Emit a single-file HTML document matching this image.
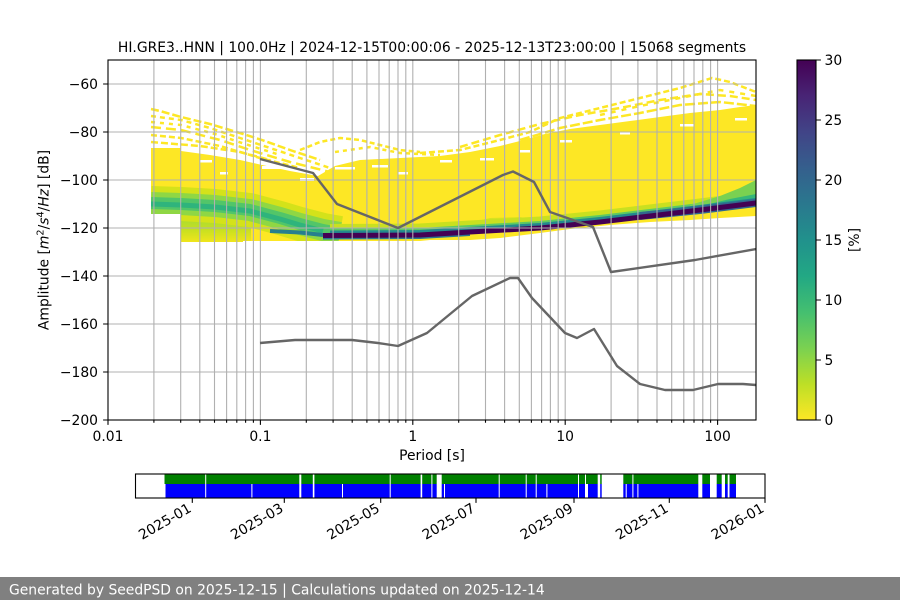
<!DOCTYPE html>
<html><head><meta charset="utf-8"><style>
html,body{margin:0;padding:0;background:#fff;}
svg{display:block;}
text{font-family:"DejaVu Sans","Liberation Sans",sans-serif;font-size:13.89px;fill:#000;}
</style></head><body>
<svg width="900" height="600" viewBox="0 0 900 600" xmlns="http://www.w3.org/2000/svg">
<defs>
<clipPath id="ax"><rect x="108" y="60" width="648" height="360"/></clipPath>
<clipPath id="body"><polygon points="151,148 181,148 181,151 210,155 240,160 262,165 290,171 318,176 335,166 360,160 400,158 440,156 470,152 500,146 520,141 545,134 570,129 600,125 630,121 660,117 690,113 720,110 740,107 756,105 756,216 720,218 690,220 650,222 610,225 570,229 540,233 500,238 470,240 430,240 420,241 330,241 243,241 243,242 181,242 181,214 151,214"/></clipPath>
<linearGradient id="cb" x1="0" y1="0" x2="0" y2="1">
<stop offset="0" stop-color="#440154"/><stop offset="0.1" stop-color="#482475"/><stop offset="0.2" stop-color="#414487"/><stop offset="0.3" stop-color="#355f8d"/><stop offset="0.4" stop-color="#2a788e"/><stop offset="0.5" stop-color="#21918c"/><stop offset="0.6" stop-color="#22a884"/><stop offset="0.7" stop-color="#44bf70"/><stop offset="0.8" stop-color="#7ad151"/><stop offset="0.9" stop-color="#bddf26"/><stop offset="1" stop-color="#fde725"/>
</linearGradient>
<linearGradient id="gB" x1="0" y1="0" x2="0" y2="1">
<stop offset="0" stop-color="#a8db34"/><stop offset="0.5" stop-color="#c8e020"/><stop offset="1" stop-color="#f0e51c"/>
</linearGradient>
<linearGradient id="gH" x1="0" y1="0" x2="0" y2="1">
<stop offset="0" stop-color="#e4e419"/><stop offset="0.5" stop-color="#9dd93b"/><stop offset="1" stop-color="#3fbc73"/>
</linearGradient>
</defs>
<rect x="0" y="0" width="900" height="600" fill="#fff"/>

<!-- heatmap -->
<g clip-path="url(#ax)">
<g fill="none" stroke="#fde725" stroke-width="2.5">
<polyline points="151,109 160,111 181,117 210,124 240,133 262,140 290,150 320,160" stroke-dasharray="8 3"/>
<polyline points="151,116 181,120 210,128 240,138 270,148 300,158 330,168" stroke-dasharray="5 4"/>
<polyline points="151,122 181,125 215,134 245,144 280,155" stroke-dasharray="4 5"/>
<polyline points="151,127 181,130 220,140 250,150 290,162 330,172" stroke-dasharray="10 5"/>
<polyline points="151,135 181,138 220,146 260,158 300,168" stroke-dasharray="6 3"/>
<polyline points="151,142 200,146 240,152 270,160" stroke-dasharray="7 3"/>
<polyline points="300,150 320,142 340,138 360,140 380,145 400,150 420,152" stroke-dasharray="5 3"/>
<polyline points="335,152 370,147 400,153 440,155" stroke-dasharray="4 4"/>
<polyline points="420,153 460,150 500,140 530,132 560,118 600,108 640,98 680,88 712,78 730,82 756,92" stroke-dasharray="6 3"/>
<polyline points="460,147 500,135 540,124 580,115 620,108 660,100 700,94 730,96 756,100" stroke-dasharray="8 4"/>
<polyline points="520,140 560,128 600,120 640,113 680,105 720,102 756,106" stroke-dasharray="10 3"/>
<polyline points="600,115 640,106 680,98 720,90 756,96" stroke-dasharray="5 6"/>
</g>
<polygon fill="#fde725" points="151,148 181,148 181,151 210,155 240,160 262,165 290,171 318,176 335,166 360,160 400,158 440,156 470,152 500,146 520,141 545,134 570,129 600,125 630,121 660,117 690,113 720,110 740,107 756,105 756,216 720,218 690,220 650,222 610,225 570,229 540,233 500,238 470,240 430,240 420,241 330,241 243,241 243,242 181,242 181,214 151,214"/>
<g fill="#fff">
<rect x="262" y="166" width="30" height="3"/><rect x="300" y="178" width="14" height="3"/>
<rect x="335" y="167" width="20" height="2.5"/><rect x="372" y="165" width="16" height="2.5"/>
<rect x="398" y="172" width="10" height="2.5"/><rect x="440" y="160" width="12" height="2.5"/>
<rect x="480" y="158" width="14" height="2.5"/><rect x="520" y="150" width="10" height="2.5"/>
<rect x="560" y="140" width="12" height="2.5"/><rect x="620" y="132" width="10" height="2.5"/>
<rect x="680" y="124" width="14" height="2.5"/><rect x="735" y="118" width="12" height="2.5"/>
<rect x="200" y="160" width="12" height="2.5"/><rect x="220" y="172" width="8" height="2.5"/>
</g>
<g clip-path="url(#body)">
<rect x="181" y="218" width="70" height="24" fill="url(#gB)"/>
<g fill="none" stroke-linejoin="round">
<polyline points="151,203 181,204 215,206 250,210 280,218 300,224 323,230 340,233" stroke="#d4e21a" stroke-width="34"/>
<polyline points="151,203 181,204 215,206 250,210 280,218 300,224 323,230 340,233" stroke="#8fd744" stroke-width="22"/>
<polyline points="151,203 181,204 215,206 250,210 280,218 300,224 323,230 340,233" stroke="#52c569" stroke-width="12"/>
<polyline points="151,204 181,205 215,207 250,211 280,219 300,225 323,231" stroke="#2fb47c" stroke-width="5"/>
</g>
<polygon points="445,233 465,224 490,218 520,217 540,221 548,226 540,229 470,233" fill="url(#gH)"/>
<g fill="none" stroke-linejoin="round">
<polyline points="330,230 420,229.5 470,226.5 540,222.5 600,216.5 650,210.5 700,204.5 756,197.5" stroke="#c9e020" stroke-width="12"/>
<polyline points="330,232 420,231.5 470,228.5 540,224.5 600,218.5 650,212.5 700,206.5 756,199.5" stroke="#5ec962" stroke-width="7"/>
</g>
<polygon points="690,205 720,196 740,188 756,180 756,200 720,207 690,211" fill="#7ad151"/>
<polygon points="705,205 730,199 756,194 756,201 730,205 705,208" fill="#35b779"/>
<g fill="none" stroke-linejoin="round">
<polyline points="330,233.5 420,233 470,230 540,226 600,220 650,214 700,208 756,201" stroke="#23898e" stroke-width="6"/>
<polyline points="270,231 300,232.5 323,235" stroke="#277f8e" stroke-width="4"/>
<polyline points="323,238.5 420,238 470,235" stroke="#2a788e" stroke-width="2"/>
<polyline points="640,216 700,210 756,203" stroke="#31688e" stroke-width="8"/>
<polyline points="323,235.5 420,235 470,232 540,228 600,222 650,216 700,210 756,203" stroke="#440154" stroke-width="5"/>
</g>
</g>
</g>

<!-- grid -->
<g stroke="#b0b0b0" stroke-width="1.1" fill="none">
<path d="M108,84H756M108,132H756M108,180H756M108,228H756M108,276H756M108,324H756M108,372H756"/>
<path d="M153.9,60V420M180.7,60V420M199.8,60V420M214.5,60V420M226.6,60V420M236.8,60V420M245.6,60V420M253.4,60V420M260.4,60V420M306.3,60V420M333.1,60V420M352.2,60V420M366.9,60V420M379,60V420M389.2,60V420M398,60V420M405.8,60V420M412.8,60V420M458.7,60V420M485.5,60V420M504.6,60V420M519.3,60V420M531.4,60V420M541.6,60V420M550.4,60V420M558.2,60V420M565.2,60V420M611.1,60V420M637.9,60V420M657,60V420M671.7,60V420M683.8,60V420M694,60V420M702.8,60V420M710.6,60V420M717.6,60V420"/>
</g>

<!-- noise models -->
<g clip-path="url(#ax)" fill="none" stroke="#666666" stroke-width="2.4" stroke-linejoin="round">
<polyline points="260,159 313,173 337,204 398,228 503,175 513,171.5 534,182 550,212 593,227 611,272 695,260 756,249"/>
<polyline points="260,343 295,340 352,340 378,343 398,346 427,333 472,296 510,278 518,278 532,298 565,333 577,338 594,329 617,366 640,384 665,390 693,390 718,384 743,384 756,385"/>
</g>

<rect x="108" y="60" width="648" height="360" fill="none" stroke="#000" stroke-width="1.1"/>
<g stroke="#000" stroke-width="1.1">
<path d="M108,420V424.9M260.4,420V424.9M412.8,420V424.9M565.2,420V424.9M717.6,420V424.9"/>
<path d="M153.9,420V422.8M180.7,420V422.8M199.8,420V422.8M214.5,420V422.8M226.6,420V422.8M236.8,420V422.8M245.6,420V422.8M253.4,420V422.8M306.3,420V422.8M333.1,420V422.8M352.2,420V422.8M366.9,420V422.8M379,420V422.8M389.2,420V422.8M398,420V422.8M405.8,420V422.8M458.7,420V422.8M485.5,420V422.8M504.6,420V422.8M519.3,420V422.8M531.4,420V422.8M541.6,420V422.8M550.4,420V422.8M558.2,420V422.8M611.1,420V422.8M637.9,420V422.8M657,420V422.8M671.7,420V422.8M683.8,420V422.8M694,420V422.8M702.8,420V422.8M710.6,420V422.8"/>
<path d="M108,84H103.1M108,132H103.1M108,180H103.1M108,228H103.1M108,276H103.1M108,324H103.1M108,372H103.1M108,420H103.1"/>
</g>
<g text-anchor="middle">
<text x="108" y="441">0.01</text>
<text x="260.4" y="441">0.1</text>
<text x="412.8" y="441">1</text>
<text x="565.2" y="441">10</text>
<text x="717.6" y="441">100</text>
<text x="432" y="460">Period [s]</text>
<text x="432" y="52">HI.GRE3..HNN | 100.0Hz | 2024-12-15T00:00:06 - 2025-12-13T23:00:00 | 15068 segments</text>
</g>
<g text-anchor="end">
<text x="98" y="89">−60</text>
<text x="98" y="137">−80</text>
<text x="98" y="185">−100</text>
<text x="98" y="233">−120</text>
<text x="98" y="281">−140</text>
<text x="98" y="329">−160</text>
<text x="98" y="377">−180</text>
<text x="98" y="425">−200</text>
</g>
<text transform="translate(48.5,240) rotate(-90)" text-anchor="middle">Amplitude [<tspan font-style="italic">m</tspan><tspan dy="-5" font-size="9.7">2</tspan><tspan dy="5">/</tspan><tspan font-style="italic">s</tspan><tspan dy="-5" font-size="9.7">4</tspan><tspan dy="5">/</tspan><tspan font-style="italic">Hz</tspan>] [dB]</text>

<rect x="797" y="60" width="19" height="360" fill="url(#cb)" stroke="#000" stroke-width="1.1"/>
<g stroke="#000" stroke-width="1.1">
<path d="M816,60H820.9M816,120H820.9M816,180H820.9M816,240H820.9M816,300H820.9M816,360H820.9M816,420H820.9"/>
</g>
<g>
<text x="824.5" y="65">30</text>
<text x="824.5" y="125">25</text>
<text x="824.5" y="185">20</text>
<text x="824.5" y="245">15</text>
<text x="824.5" y="305">10</text>
<text x="824.5" y="365">5</text>
<text x="824.5" y="425">0</text>
</g>
<text transform="translate(859,240) rotate(-90)" text-anchor="middle">[%]</text>

<rect x="164.5" y="474" width="571.5" height="10" fill="#008000"/>
<rect x="165.5" y="484" width="570.5" height="14" fill="#0000ff"/>
<g fill="#fff">
<rect x="205.2" y="474" width="1" height="24"/>
<rect x="299.3" y="474" width="2" height="24"/>
<rect x="312.8" y="474" width="1.6" height="24"/>
<rect x="389.7" y="474" width="1" height="24"/>
<rect x="420.6" y="474" width="1.6" height="24"/>
<rect x="431.4" y="474" width="1" height="24"/>
<rect x="436.7" y="474" width="5" height="24"/>
<rect x="498.7" y="474" width="1" height="24"/>
<rect x="525.7" y="474" width="1" height="24"/>
<rect x="535.7" y="474" width="1" height="24"/>
<rect x="578" y="474" width="1" height="24"/>
<rect x="597.7" y="474" width="2.5" height="24"/>
<rect x="601.7" y="474" width="21.6" height="24"/>
<rect x="632.4" y="474" width="1" height="24"/>
<rect x="698.3" y="474" width="4" height="24"/>
<rect x="710" y="474" width="6.7" height="24"/>
<rect x="721.7" y="474" width="3.3" height="24"/>
<rect x="727.7" y="474" width="1.8" height="24"/>
<rect x="251.4" y="484" width="1" height="14"/>
<rect x="342" y="484" width="1" height="14"/>
<rect x="444" y="484" width="1" height="14"/>
<rect x="546.4" y="484" width="1" height="14"/>
<rect x="585" y="484" width="3" height="14"/>
<rect x="625.7" y="484" width="1" height="14"/>
<rect x="637.4" y="484" width="1" height="14"/>
<rect x="585" y="474" width="1" height="10"/>
</g>
<rect x="135.5" y="474" width="629.5" height="24" fill="none" stroke="#000" stroke-width="1.1"/>
<g stroke="#000" stroke-width="1.1">
<path d="M192.3,498V502.9M284.3,498V502.9M380.7,498V502.9M476,498V502.9M574,498V502.9M669.3,498V502.9M765,498V502.9"/>
</g>
<g text-anchor="end">
<text transform="translate(192.3,511) rotate(-30)">2025-01</text>
<text transform="translate(284.3,511) rotate(-30)">2025-03</text>
<text transform="translate(380.7,511) rotate(-30)">2025-05</text>
<text transform="translate(476,511) rotate(-30)">2025-07</text>
<text transform="translate(574,511) rotate(-30)">2025-09</text>
<text transform="translate(669.3,511) rotate(-30)">2025-11</text>
<text transform="translate(765,511) rotate(-30)">2026-01</text>
</g>

<rect x="0" y="577" width="900" height="23" fill="#808080"/>
<text x="9" y="594.5" style="fill:#fff">Generated by SeedPSD on 2025-12-15 | Calculations updated on 2025-12-14</text>
</svg>
</body></html>
